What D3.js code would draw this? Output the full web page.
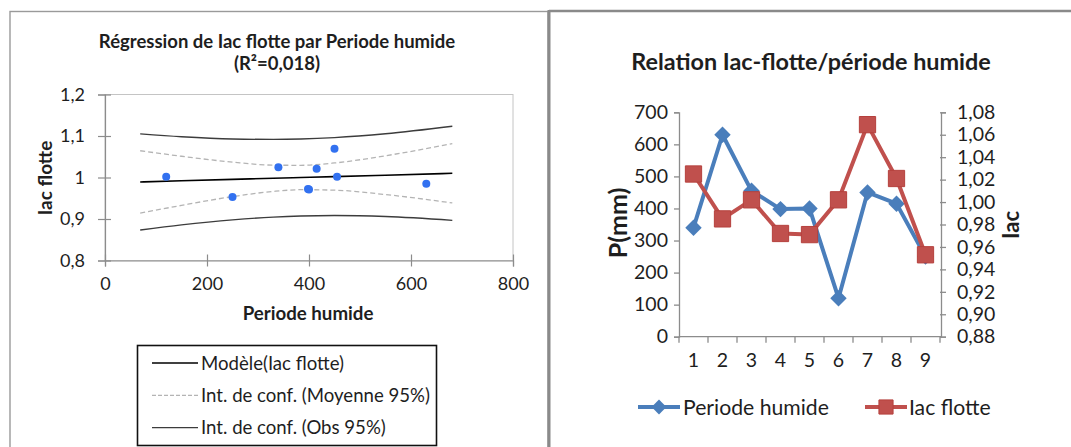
<!DOCTYPE html>
<html><head><meta charset="utf-8">
<script src="https://cdn.jsdelivr.net/npm/d3@7"></script>
<style>
body{margin:0;background:#fff}
text{font-family:Lato,"Open Sans",sans-serif;fill:#1e1e1e}
</style>
</head><body><svg id="c" width="1071" height="447"></svg>
<script>
// ---------- data ----------
const periods = [1,2,3,4,5,6,7,8,9];
const periodeHumide = [340,630,455,398,400,120,450,415,250];
const iacFlotte = [1.025,0.985,1.002,0.972,0.971,1.002,1.069,1.021,0.953];

const bandX     = [69,150,250,330,384,450,550,681];
const modele    = [0.9893,0.9920,0.9954,0.9982,1.0000,1.0022,1.0056,1.0101];
const meanUpper = [1.0645,1.0512,1.0370,1.0298,1.0294,1.0350,1.0524,1.0816];
const meanLower = [0.9141,0.9328,0.9539,0.9665,0.9706,0.9695,0.9589,0.9386];
const obsUpper  = [1.1051,1.0982,1.0928,1.0918,1.0928,1.0962,1.1054,1.1235];
const obsLower  = [0.8735,0.8859,0.8980,0.9046,0.9072,0.9083,0.9059,0.8967];

const leftXTicks = [0,200,400,600,800];
const leftYTicks = [0.8,0.9,1,1.1,1.2];
const pTicks = [0,100,200,300,400,500,600,700];
const iacTicks = [0.88,0.90,0.92,0.94,0.96,0.98,1.00,1.02,1.04,1.06,1.08];

const leftTitle = ["Régression de Iac flotte par Periode humide","(R²=0,018)"];
const leftLegend = ["Modèle(Iac flotte)","Int. de conf. (Moyenne 95%)","Int. de conf. (Obs 95%)"];
const rightTitle = "Relation Iac-flotte/période humide";
const rightLegend = ["Periode humide","Iac flotte"];

const svg = d3.select("#c");
const comma = d => String(d).replace(".", ",");

// ---------- frames ----------
svg.append("rect").attr("x",10).attr("y",11.5).attr("width",538).attr("height",460)
  .attr("fill","none").attr("stroke","#9a9a9a").attr("stroke-width",1.4);
svg.append("line").attr("x1",549).attr("x2",549).attr("y1",10).attr("y2",447)
  .attr("stroke","#8a8a8a").attr("stroke-width",3);
svg.append("line").attr("x1",549).attr("x2",1071).attr("y1",11).attr("y2",11)
  .attr("stroke","#8a8a8a").attr("stroke-width",2.5);

// ========== LEFT CHART ==========
const L = svg.append("g");
const x1 = d3.scaleLinear().domain([0,800]).range([105,513]);
const y1 = d3.scaleLinear().domain([0.8,1.2]).range([260.5,94.5]);

L.append("rect").attr("x",x1(0)).attr("y",y1(1.2)).attr("width",x1(800)-x1(0)).attr("height",y1(0.8)-y1(1.2))
  .attr("fill","none").attr("stroke","#c4c4c4").attr("stroke-width",1);

const ay1 = L.append("g").attr("transform",`translate(${x1(0)},0)`)
  .call(d3.axisLeft(y1).tickValues(leftYTicks).tickSize(7).tickPadding(13).tickFormat(comma));
ay1.selectAll(".tick line").attr("x1",6);
const ax1 = L.append("g").attr("transform",`translate(0,${y1(0.8)})`)
  .call(d3.axisBottom(x1).tickValues(leftXTicks).tickSize(6).tickPadding(11).tickFormat(d=>d));
ax1.selectAll(".tick line").attr("y1",-6);
[ay1,ax1].forEach(a=>{
  a.select(".domain").attr("stroke","#8c8c8c").attr("stroke-width",1.2);
  a.selectAll(".tick line").attr("stroke","#8c8c8c").attr("stroke-width",1.2);
  a.selectAll("text").style("font-size","18px").attr("fill","#1e1e1e");
});

const lineL = vals => d3.line().x((d,i)=>x1(bandX[i])).y(d=>y1(d)).curve(d3.curveMonotoneX)(vals);
L.append("path").attr("d",lineL(obsUpper)).attr("fill","none").attr("stroke","#3c3c3c").attr("stroke-width",1.4);
L.append("path").attr("d",lineL(obsLower)).attr("fill","none").attr("stroke","#3c3c3c").attr("stroke-width",1.4);
L.append("path").attr("d",lineL(meanUpper)).attr("fill","none").attr("stroke","#b4b4b4").attr("stroke-width",1.3).attr("stroke-dasharray","5,3");
L.append("path").attr("d",lineL(meanLower)).attr("fill","none").attr("stroke","#b4b4b4").attr("stroke-width",1.3).attr("stroke-dasharray","5,3");
L.append("path").attr("d",lineL(modele)).attr("fill","none").attr("stroke","#000").attr("stroke-width",1.6);

L.selectAll("circle.pt").data(periods).enter().append("circle")
  .attr("cx",(d,i)=>x1(periodeHumide[i])).attr("cy",(d,i)=>y1(iacFlotte[i])).attr("r",4)
  .attr("fill","#3271f0");

L.append("text").attr("x",277).attr("y",48).attr("text-anchor","middle")
  .style("font-size","18.5px").style("font-weight","bold").text(leftTitle[0]);
L.append("text").attr("x",277).attr("y",70).attr("text-anchor","middle")
  .style("font-size","18.5px").style("font-weight","bold").text(leftTitle[1]);
L.append("text").attr("x",308).attr("y",320).attr("text-anchor","middle")
  .style("font-size","18.7px").style("font-weight","bold").text("Periode humide");
L.append("text").attr("transform","translate(52,178) rotate(-90)").attr("text-anchor","middle")
  .style("font-size","19px").style("font-weight","bold").text("Iac flotte");

// legend
L.append("rect").attr("x",137.5).attr("y",345.5).attr("width",299).attr("height",100)
  .attr("fill","#fff").attr("stroke","#111").attr("stroke-width",1.6);
const legStyles = [
  {stroke:"#000",w:1.6,dash:null},
  {stroke:"#b4b4b4",w:1.3,dash:"4,2"},
  {stroke:"#3c3c3c",w:1.4,dash:null}];
leftLegend.forEach((t,i)=>{
  const yy = 363 + i*32.3;
  L.append("line").attr("x1",152).attr("x2",198).attr("y1",yy).attr("y2",yy)
    .attr("stroke",legStyles[i].stroke).attr("stroke-width",legStyles[i].w)
    .attr("stroke-dasharray",legStyles[i].dash);
  L.append("text").attr("x",201).attr("y",yy+6.5).style("font-size","18.6px").text(t);
});

// ========== RIGHT CHART ==========
const R = svg.append("g");
const xb = d3.scaleBand().domain(periods).range([679,940]);
const yP = d3.scaleLinear().domain([0,700]).range([336.7,112.3]);
const yI = d3.scaleLinear().domain([0.88,1.08]).range([336.7,112.3]);
const cx = d => xb(d)+xb.bandwidth()/2;

const aP = R.append("g").attr("transform","translate(679,0)")
  .call(d3.axisLeft(yP).tickValues(pTicks).tickSize(5).tickPadding(6).tickFormat(d=>d));
const aI = R.append("g").attr("transform","translate(941,0)")
  .call(d3.axisRight(yI).tickValues(iacTicks).tickSize(5).tickPadding(11).tickFormat(d=>d.toFixed(2).replace(".",",")));
aI.selectAll(".tick line").attr("x1",-1);
const aX = R.append("g").attr("transform","translate(0,336.7)")
  .call(d3.axisBottom(xb).tickSize(0).tickPadding(24).tickFormat(d=>d));
aX.select(".domain").attr("d","M679,0H941");
aX.selectAll("line.bt").data(d3.range(10)).enter().append("line").attr("class","bt")
  .attr("x1",i=>679+i*xb.bandwidth()).attr("x2",i=>679+i*xb.bandwidth()).attr("y1",0).attr("y2",6)
  .attr("stroke","#8c8c8c").attr("stroke-width",1.3);
[aP,aI,aX].forEach(a=>{
  a.select(".domain").attr("stroke","#8c8c8c").attr("stroke-width",1.3);
  a.selectAll(".tick line").attr("stroke","#8c8c8c").attr("stroke-width",1.3);
  a.selectAll("text").style("font-size","19.5px").attr("fill","#1e1e1e");
});
aX.selectAll("text").attr("dy","0.32em");

const blue="#4a7ebb", red="#c0504d";
R.append("path").attr("d",d3.line().x((d,i)=>cx(periods[i])).y(d=>yP(d))(periodeHumide))
  .attr("fill","none").attr("stroke",blue).attr("stroke-width",4).attr("stroke-linejoin","round");
R.selectAll("path.dia").data(periods).enter().append("path").attr("class","dia")
  .attr("d",d3.symbol(d3.symbolSquare,135)())
  .attr("transform",(d,i)=>`translate(${cx(d)},${yP(periodeHumide[i])}) rotate(45)`)
  .attr("fill",blue);
R.append("path").attr("d",d3.line().x((d,i)=>cx(periods[i])).y(d=>yI(d))(iacFlotte))
  .attr("fill","none").attr("stroke",red).attr("stroke-width",4).attr("stroke-linejoin","round");
R.selectAll("path.sq").data(periods).enter().append("path").attr("class","sq")
  .attr("d",d3.symbol(d3.symbolSquare,265)())
  .attr("transform",(d,i)=>`translate(${cx(d)},${yI(iacFlotte[i])})`)
  .attr("fill",red).attr("stroke","#b5403d").attr("stroke-width",1);

R.append("text").attr("x",811).attr("y",70).attr("text-anchor","middle")
  .style("font-size","23.4px").style("font-weight","bold").text(rightTitle);
R.append("text").attr("transform","translate(627,223) rotate(-90)").attr("text-anchor","middle")
  .style("font-size","25px").style("font-weight","bold").text("P(mm)");
R.append("text").attr("transform","translate(1019,225) rotate(-90)").attr("text-anchor","middle")
  .style("font-size","22px").style("font-weight","bold").text("Iac");

// legend
R.append("line").attr("x1",638).attr("x2",680).attr("y1",407).attr("y2",407).attr("stroke",blue).attr("stroke-width",4);
R.append("path").attr("d",d3.symbol(d3.symbolSquare,110)()).attr("transform","translate(659,407) rotate(45)").attr("fill",blue);
R.append("text").attr("x",683).attr("y",414.5).style("font-size","21.2px").text(rightLegend[0]);
R.append("line").attr("x1",865).attr("x2",907).attr("y1",407).attr("y2",407).attr("stroke",red).attr("stroke-width",4);
R.append("path").attr("d",d3.symbol(d3.symbolSquare,200)()).attr("transform","translate(886,407)").attr("fill",red).attr("stroke","#b5403d");
R.append("text").attr("x",909).attr("y",414.5).style("font-size","21.2px").text(rightLegend[1]);
</script></body></html>
